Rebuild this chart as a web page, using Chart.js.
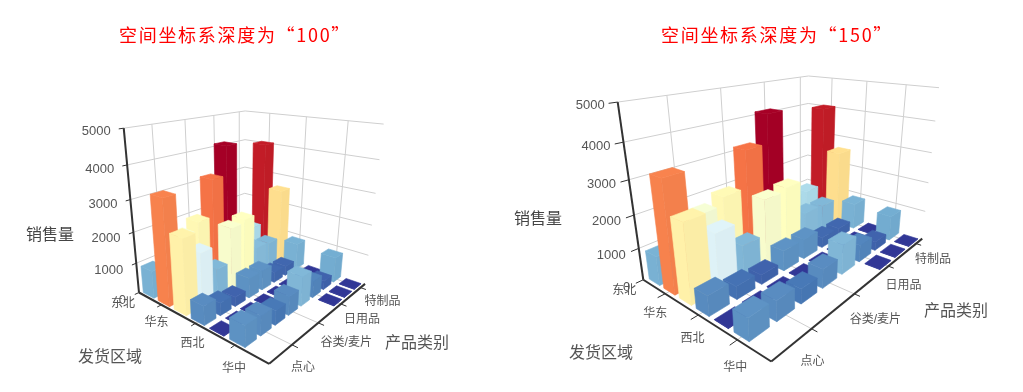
<!DOCTYPE html>
<html lang="zh">
<head>
<meta charset="UTF-8" />
<title>空间坐标系深度</title>
<script src="https://cdn.jsdelivr.net/npm/chart.js@4/dist/chart.umd.js"></script>
<style>
  html, body { margin: 0; padding: 0; background: #fff; overflow: hidden; }
  canvas { position: absolute; top: 0; }
</style>
</head>
<body>
<canvas id="left" width="512" height="392" style="left:0"></canvas>
<canvas id="right" width="511" height="392" style="left:512px"></canvas>
<script>
// data, one list per shipping region, one value per product category
const regions = ['东北', '华北', '华东', '华南', '西北', '西南', '华中'];
const categories = ['点心', '调味品', '谷类/麦片', '海鲜', '日用品', '肉/家禽', '特制品', '饮料'];
const valueTicks = [0, 1000, 2000, 3000, 4000, 5000];
const dongbei = [900, null, null, null, null, null, null, null];
const huabei = [3300, 2000, 2250, 3400, 4300, 1300, 1300, 4050];
const huadong = [2350, 1700, 950, 2050, 2150, 1000, 950, 2600];
const huanan = [600, 400, 300, 650, 650, 350, 330, 900];
const xibei = [0, 0, 0, 0, 0, 0, 0, 0];
const xinan = [650, 600, 450, 600, 950, 550, 300, 850];
const huazhong = [null, null, null, null, null, 0, 0, 0];
const sales = [dongbei, huabei, huadong, huanan, xibei, xinan, huazhong];

const regionLabels = ['东北', '华东', '西北', '华中'];
const categoryLabels = ['点心', '谷类/麦片', '日用品', '特制品'];
const regionTickAt = [-0.5, 1.5, 3.5, 5.5];
const categoryTickAt = [1.5, 3.5, 5.5, 7.5];

const palette = ['#313695', '#4575b4', '#74add1', '#abd9e9', '#e0f3f8', '#ffffbf', '#fee090', '#fdae61', '#f46d43', '#d73027', '#a50026'];
const colorMax = 4300;
const barFill = 0.72;
const textFont = '"Liberation Sans", "Noto Sans CJK SC", sans-serif';
const titleFont = '"Noto Sans CJK SC", sans-serif';

// where the box corners land on the page for each depth setting
const views = [{
  id: 'left', xMin: 0, xMax: 512, title: '空间坐标系深度为“100”', titleX: 119, titleY: 35,
  corners: { A: [140, 292], B: [269, 364.3], C: [366, 283.3], D: [243, 243], Atop: [122.7, 128.3], Ctop: [382.7, 124.3], Dtop: [246.7, 110.7] },
  regionShift: [[-16, 11], [-5, 18], [-3, 20], [-1, 24]],
  categoryShift: [[11, 23], [28, 20], [21, 16], [22, 14]],
  valueName: [50, 236], regionName: [110, 358], categoryName: [417, 344]
}, {
  id: 'right', xMin: 512, xMax: 1023, title: '空间坐标系深度为“150”', titleX: 661, titleY: 35,
  corners: { A: [642.7, 279], B: [771.7, 362], C: [921.7, 238.3], D: [808, 203], Atop: [618, 102.5], Ctop: [939.3, 87.7], Dtop: [808, 75.7] },
  regionShift: [[-19, 11], [-10, 20], [-6, 24], [-2, 28]],
  categoryShift: [[1, 33], [21, 26], [15, 20], [17, 16]],
  valueName: [538, 220], regionName: [601, 354], categoryName: [956, 312]
}];

// least squares fit of a projective camera to the corner points
function fitCamera(c) {
  const pts = [[0, 0, 0, c.A], [1, 0, 0, c.B], [1, 1, 0, c.C], [0, 1, 0, c.D], [0, 0, 1, c.Atop], [1, 1, 1, c.Ctop], [0, 1, 1, c.Dtop]];
  const rows = [];
  pts.forEach(([u, v, w, p]) => {
    rows.push([1, u, v, w, 0, 0, 0, 0, -p[0] * u, -p[0] * v, -p[0] * w, p[0]]);
    rows.push([0, 0, 0, 0, 1, u, v, w, -p[1] * u, -p[1] * v, -p[1] * w, p[1]]);
  });
  const n = 11;
  const m = [];
  for (let i = 0; i < n; i++) {
    m[i] = [];
    for (let j = 0; j <= n; j++) {
      m[i][j] = rows.reduce((s, r) => s + r[i] * r[j], 0);
    }
  }
  for (let i = 0; i < n; i++) {
    let best = i;
    for (let k = i + 1; k < n; k++) if (Math.abs(m[k][i]) > Math.abs(m[best][i])) best = k;
    [m[i], m[best]] = [m[best], m[i]];
    for (let k = 0; k < n; k++) {
      if (k === i) continue;
      const f = m[k][i] / m[i][i];
      for (let j = i; j <= n; j++) m[k][j] -= f * m[i][j];
    }
  }
  return m.map((r, i) => r[n] / r[i]);
}

function shade(hex, f) {
  const n = parseInt(hex.slice(1), 16);
  const ch = [n >> 16, (n >> 8) & 255, n & 255].map(x => Math.min(255, Math.round(x * f)));
  return `rgb(${ch[0]},${ch[1]},${ch[2]})`;
}

function colorFor(value) {
  const t = Math.min(1, value / colorMax) * (palette.length - 1);
  const i = Math.min(palette.length - 2, Math.floor(t));
  const a = parseInt(palette[i].slice(1), 16);
  const b = parseInt(palette[i + 1].slice(1), 16);
  const mix = (s) => Math.round(((a >> s) & 255) * (1 - t + i) + ((b >> s) & 255) * (t - i));
  return '#' + ((1 << 24) + (mix(16) << 16) + (mix(8) << 8) + mix(0)).toString(16).slice(1);
}

// fills the polygon datasets from the positions the scales gave their points
const polygonPlugin = {
  id: 'polygons',
  afterDatasetDraw(chart, args) {
    const ds = chart.data.datasets[args.index];
    if (!ds.polygon) return;
    const ctx = chart.ctx;
    ctx.save();
    ctx.beginPath();
    args.meta.data.forEach((p, i) => (i ? ctx.lineTo(p.x, p.y) : ctx.moveTo(p.x, p.y)));
    ctx.closePath();
    ctx.fillStyle = ds.polygon;
    ctx.strokeStyle = ds.polygon;
    ctx.lineWidth = 0.6;
    ctx.fill();
    ctx.stroke();
    ctx.restore();
  }
};

function buildChart(view) {
  const cam = fitCamera(view.corners);
  // r and c count in cells of the grid, value in sales
  const project = (r, c, value) => {
    const u = r / regions.length, v = c / categories.length, w = value / 5000;
    const d = 1 + cam[8] * u + cam[9] * v + cam[10] * w;
    return {
      x: (cam[0] + cam[1] * u + cam[2] * v + cam[3] * w) / d,
      y: (cam[4] + cam[5] * u + cam[6] * v + cam[7] * w) / d
    };
  };
  const painted = [];
  const line = (a, b, color, width) => painted.push({ data: [a, b], showLine: true, borderColor: color, borderWidth: width, pointRadius: 0 });
  const polygon = (pts, color) => painted.push({ data: pts, polygon: color, showLine: false, pointRadius: 0 });

  const R = regions.length, C = categories.length;
  const grid = '#cfcfcf';
  // walls and floor
  valueTicks.forEach(t => {
    if (t > 0) {
      line(project(0, 0, t), project(0, C, t), grid, 1);
      line(project(0, C, t), project(R, C, t), grid, 1);
    }
  });
  categoryTickAt.forEach(c => {
    line(project(0, c, 0), project(0, c, 5000), grid, 1);
    line(project(0, c, 0), project(R, c, 0), grid, 1);
  });
  regionTickAt.slice(1).forEach(r => {
    line(project(r, C, 0), project(r, C, 5000), grid, 1);
    line(project(r, 0, 0), project(r, C, 0), grid, 1);
  });

  // bars, far ones first so the near ones cover them
  const inset = (1 - barFill) / 2;
  sales.forEach((row, r) => {
    for (let c = C - 1; c >= 0; c--) {
      const value = row[c];
      if (value === null) continue;
      const base = colorFor(value);
      const h = Math.max(value, 12);
      const u0 = r + inset, u1 = r + 1 - inset, v0 = c + inset, v1 = c + 1 - inset;
      polygon([project(u0, v0, 0), project(u1, v0, 0), project(u1, v0, h), project(u0, v0, h)], shade(base, 1));
      polygon([project(u1, v0, 0), project(u1, v1, 0), project(u1, v1, h), project(u1, v0, h)], shade(base, 0.985));
      polygon([project(u0, v0, h), project(u1, v0, h), project(u1, v1, h), project(u0, v1, h)], shade(base, 1.01));
    }
  });

  // axes and tick marks
  const dark = '#333333';
  line(project(0, 0, 0), project(0, 0, 5000), dark, 2);
  line(project(0, 0, 0), project(R, 0, 0), dark, 2);
  line(project(R, 0, 0), project(R, C, 0), dark, 2);
  valueTicks.forEach(t => line(project(0, 0, t), project(0, -0.25, t), dark, 1));
  regionTickAt.slice(1).forEach(r => line(project(r, 0, 0), project(r, -0.25, 0), dark, 1));
  categoryTickAt.forEach(c => line(project(R, c, 0), project(R + 0.25, c, 0), dark, 1));

  const labelsPlugin = {
    id: 'labels',
    afterDraw(chart) {
      const ctx = chart.ctx;
      const sx = chart.scales.x, sy = chart.scales.y;
      const put = (text, x, y, font, color, align) => {
        ctx.font = font;
        ctx.fillStyle = color;
        ctx.textAlign = align || 'center';
        ctx.textBaseline = 'middle';
        ctx.fillText(text, sx.getPixelForValue(x), sy.getPixelForValue(y));
      };
      ctx.save();
      ctx.letterSpacing = '1.7px';
      put(view.title, view.titleX, view.titleY, '18px ' + titleFont, '#ff0000', 'left');
      ctx.letterSpacing = '0px';
      const small = '12px ' + textFont;
      valueTicks.forEach((t, i) => {
        const p = project(0, 0, t);
        put(String(t), p.x - 13, p.y + 3 + (5000 - t) / 1000, '13px ' + textFont, '#555555', 'right');
      });
      regionLabels.forEach((name, i) => {
        const p = project(regionTickAt[i], 0, 0);
        const base = i === 0 ? project(0, 0, 0) : p;
        put(name, base.x + view.regionShift[i][0], base.y + view.regionShift[i][1], small, '#555555');
      });
      categoryLabels.forEach((name, i) => {
        const p = project(R, categoryTickAt[i], 0);
        put(name, p.x + view.categoryShift[i][0], p.y + view.categoryShift[i][1], small, '#555555');
      });
      const big = '16px ' + textFont;
      put('销售量', view.valueName[0], view.valueName[1], big, '#444444');
      put('发货区域', view.regionName[0], view.regionName[1], big, '#555555');
      put('产品类别', view.categoryName[0], view.categoryName[1], big, '#555555');
      ctx.restore();
    }
  };

  new Chart(document.getElementById(view.id).getContext('2d'), {
    type: 'scatter',
    data: { datasets: painted.slice().reverse() },
    options: {
      responsive: false,
      animation: false,
      layout: { padding: 0 },
      plugins: { legend: { display: false }, tooltip: { enabled: false }, title: { display: false } },
      scales: {
        x: { type: 'linear', display: false, min: view.xMin, max: view.xMax },
        y: { type: 'linear', display: false, min: 0, max: 392, reverse: true }
      }
    },
    plugins: [polygonPlugin, labelsPlugin]
  });
}

views.forEach(buildChart);
</script>
</body>
</html>
